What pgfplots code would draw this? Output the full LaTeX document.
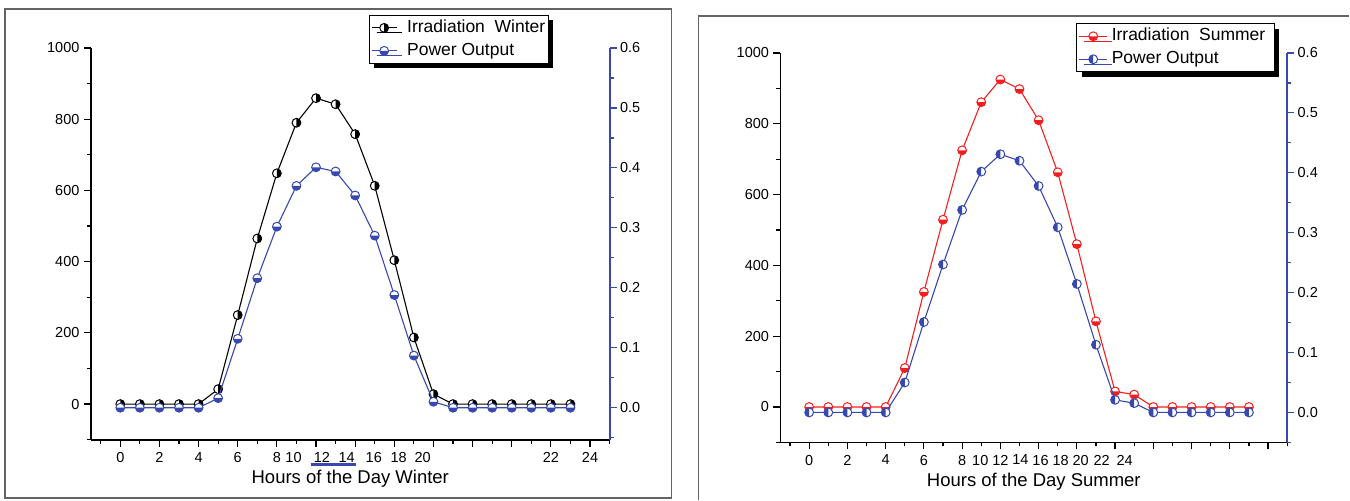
\documentclass[border=0pt]{standalone}
\usepackage{fontspec}
\setmainfont{Liberation Sans}
\usepackage{pgfplots}
\pgfplotsset{compat=1.18}
\usetikzlibrary{shadows}
\definecolor{pblue}{RGB}{55,72,175}
\definecolor{pred}{RGB}{245,30,30}
\definecolor{frame}{RGB}{100,100,100}

% half-filled markers
\pgfdeclareplotmark{hright}{%
  \pgfpathcircle{\pgfpointorigin}{\pgfplotmarksize}%
  \pgfsetfillcolor{white}\pgfusepathqfill
  \pgfpathmoveto{\pgfqpoint{0pt}{\pgfplotmarksize}}%
  \pgfpatharc{90}{-90}{\pgfplotmarksize}\pgfpathclose
  \pgfsetfillcolor{black}\pgfusepathqfill
  \pgfpathcircle{\pgfpointorigin}{\pgfplotmarksize}\pgfusepathqstroke}
\pgfdeclareplotmark{hbotblue}{%
  \pgfpathcircle{\pgfpointorigin}{\pgfplotmarksize}%
  \pgfsetfillcolor{white}\pgfusepathqfill
  \pgfpathmoveto{\pgfqpoint{-\pgfplotmarksize}{0pt}}%
  \pgfpatharc{180}{360}{\pgfplotmarksize}\pgfpathclose
  \pgfsetfillcolor{pblue}\pgfusepathqfill
  \pgfpathcircle{\pgfpointorigin}{\pgfplotmarksize}\pgfusepathqstroke}
\pgfdeclareplotmark{hbotred}{%
  \pgfpathcircle{\pgfpointorigin}{\pgfplotmarksize}%
  \pgfsetfillcolor{white}\pgfusepathqfill
  \pgfpathmoveto{\pgfqpoint{-\pgfplotmarksize}{0pt}}%
  \pgfpatharc{180}{360}{\pgfplotmarksize}\pgfpathclose
  \pgfsetfillcolor{pred}\pgfusepathqfill
  \pgfpathcircle{\pgfpointorigin}{\pgfplotmarksize}\pgfusepathqstroke}
\pgfdeclareplotmark{hleftblue}{%
  \pgfpathcircle{\pgfpointorigin}{\pgfplotmarksize}%
  \pgfsetfillcolor{white}\pgfusepathqfill
  \pgfpathmoveto{\pgfqpoint{0pt}{\pgfplotmarksize}}%
  \pgfpatharc{90}{270}{\pgfplotmarksize}\pgfpathclose
  \pgfsetfillcolor{pblue}\pgfusepathqfill
  \pgfpathcircle{\pgfpointorigin}{\pgfplotmarksize}\pgfusepathqstroke}

\pgfplotstableread{
h  wirr  wpow   sirr  spow
0  0     0      0     0
1  0     0      0     0
2  0     0      0     0
3  0     0      0     0
4  0     0      0     0
5  42    0.016  110   0.050
6  250   0.115  325   0.151
7  465   0.216  529   0.247
8  648   0.302  725   0.338
9  790   0.370  861   0.402
10 859   0.401  925   0.431
11 842   0.394  898   0.420
12 758   0.354  810   0.378
13 613   0.287  663   0.309
14 404   0.188  460   0.2145
15 187   0.087  242   0.113
16 28    0.010  44    0.021
17 0     0      35    0.0155
18 0     0      0     0
19 0     0      0     0
20 0     0      0     0
21 0     0      0     0
22 0     0      0     0
23 0     0      0     0
}\data

\newcommand{\tickfont}{\fontsize{14.5}{16}\selectfont}
\newcommand{\labfont}{\fontsize{18.5}{21}\selectfont}
\newcommand{\legfont}{\fontsize{17.5}{21}\selectfont}

\pgfplotsset{
  basestyle/.style={
    scale only axis, anchor=south west,
    xmin=-1.5, xmax=25,
    tick align=outside,
    major tick length=7pt, minor tick length=4pt,
    every tick/.style={line width=1.2pt},
    tick label style={font=\tickfont},
    /pgf/number format/assume math mode=true,
    /pgf/number format/1000 sep={},
    clip=false,
  },
  leftstyle/.style={
    basestyle,
    ymin=-100, ymax=1000,
    axis x line*=bottom, axis y line*=left,
    axis line style={line width=1.8pt,-},
    xtick={0,2,...,24}, minor xtick={-1,1,...,25}, xticklabels={},
    ytick={0,200,...,1000}, minor ytick={-100,100,...,900},
    yticklabel style={xshift=-1pt},
    extra x tick style={major tick length=0pt, tick label style={yshift=-9pt}},
    xlabel style={font=\labfont, yshift=6pt},
  },
  rightstyle/.style={
    basestyle,
    axis x line=none, axis y line*=right,
    axis line style={line width=1.8pt,-, pblue},
    every y tick/.style={pblue, line width=1.2pt},
    ytick={0,0.1,0.2,0.3,0.4,0.5,0.6},
    minor ytick={-0.05,0.05,0.15,0.25,0.35,0.45,0.55},
    yticklabel style={/pgf/number format/.cd, fixed, fixed zerofill, precision=1},
    legend cell align=left,
    legend style={font=\legfont, anchor=north west, draw=black, line width=0.8pt, fill=white,
      drop shadow={shadow xshift=5pt, shadow yshift=-5pt, fill=black, opacity=1},
      inner ysep=1pt, row sep=0pt,
      nodes={text height=13pt, text depth=4pt, inner xsep=1pt, inner ysep=3pt}},
  },
}

\begin{document}
\begin{tikzpicture}
\path (0,0) rectangle (1350pt,500pt);
\draw[frame, line width=1.8pt] (5pt,2pt) rectangle (672pt,491pt);
\draw[frame, line width=1.8pt] (699pt,0pt) -- (699pt,484pt) -- (1350pt,484pt);

% ---------- Winter ----------
\begin{axis}[leftstyle, at={(91pt,60pt)}, width=519pt, height=392pt,
  extra x ticks={0,2,4,6,8,8.85,10.3,11.57,12.95,14.22,15.45,22,24},
  extra x tick labels={0,2,4,6,8,10,12,14,16,18,20,22,24},
  xlabel={Hours of the Day Winter}]
\addplot[black, line width=1.1pt, mark=hright, mark size=4.4pt, mark options={line width=1pt}] table[x=h,y=wirr] {\data};
\end{axis}
\begin{axis}[rightstyle, at={(91pt,60pt)}, width=519pt, height=392pt,
  ymin=-0.0533, ymax=0.6,
  legend image code/.code={\draw[mark repeat=2,mark phase=2] plot coordinates {(0pt,0pt) (12.5pt,0pt) (25pt,0pt)};},
  legend style={at={(0.5356,1.0842)}, inner xsep=2pt}]
\addlegendimage{black, line width=1.1pt, mark=hright, mark size=4.4pt, mark options={line width=1pt}}
\addlegendentry{\hspace*{9pt}Irradiation\ \ Winter}
\addplot[pblue, line width=1.1pt, mark=hbotblue, mark size=4.4pt, mark options={line width=1pt}] table[x=h,y=wpow] {\data};
\addlegendentry{\hspace*{9pt}Power Output}
\end{axis}
\draw[pblue, line width=2.5pt] (311pt,35pt) -- (356pt,35pt);

% ---------- Summer ----------
\begin{axis}[leftstyle, at={(781pt,57.3pt)}, width=507pt, height=389.7pt,
  extra x ticks={0,2,4,6,8,8.95,10.0,11.05,12.1,13.15,14.2,15.3,16.5},
  extra x tick labels={0,2,4,6,8,10,12,14,16,18,20,22,24},
  xlabel={Hours of the Day Summer}]
\addplot[pred, line width=1.1pt, mark=hbotred, mark size=4.4pt, mark options={line width=1pt}] table[x=h,y=sirr] {\data};
\end{axis}
\begin{axis}[rightstyle, at={(781pt,57.3pt)}, width=507pt, height=389.7pt,
  ymin=-0.05, ymax=0.6,
  legend image code/.code={\draw[mark repeat=2,mark phase=2] plot coordinates {(0pt,0pt) (14pt,0pt) (28pt,0pt)};},
  legend style={at={(0.5838,1.076)}, inner xsep=2pt}]
\addlegendimage{pred, line width=1.1pt, mark=hbotred, mark size=4.4pt, mark options={line width=1pt}}
\addlegendentry{\hspace*{3pt}Irradiation\ \ Summer\hspace*{6pt}}
\addplot[pblue, line width=1.1pt, mark=hleftblue, mark size=4.4pt, mark options={line width=1pt}] table[x=h,y=spow] {\data};
\addlegendentry{\hspace*{3pt}Power Output}
\end{axis}
\end{tikzpicture}
\end{document}
